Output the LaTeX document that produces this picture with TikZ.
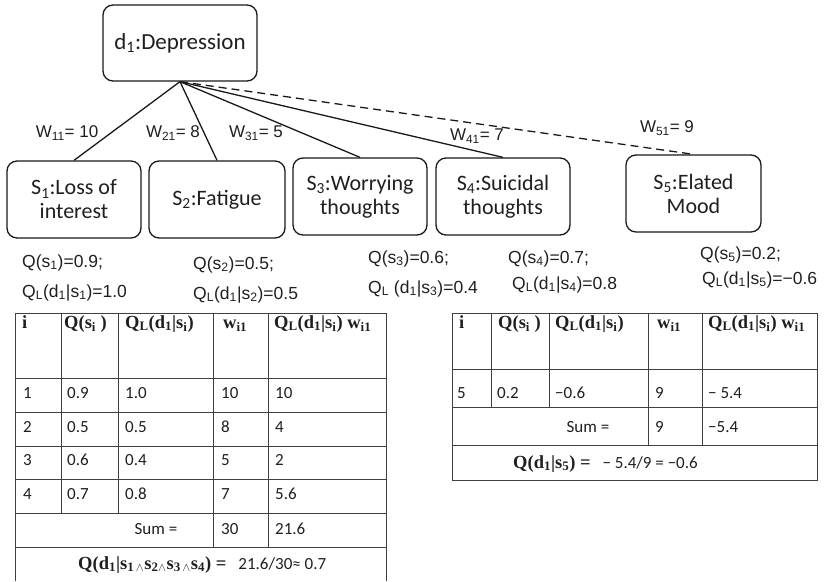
\documentclass[tikz,border=0pt]{standalone}
\usepackage{fontspec}
\setmainfont{Liberation Sans}
\newfontfamily\boxfont{Carlito}
\newfontfamily\cellfont{Carlito}
\newfontfamily\headfont{Liberation Serif}

\begin{document}
\begin{tikzpicture}[x=1pt,y=-1pt,
  every node/.style={inner sep=0pt, text=black!88},
  concept/.style={draw=black!90, line width=1.3pt, rounded corners=10pt,
    align=center, font=\boxfont\fontsize{22}{24}\selectfont},
  link/.style={line width=1.3pt, draw=black!90},
  weaklink/.style={link, dash pattern=on 8pt off 5pt},
  weight/.style={font=\fontsize{17}{20}\selectfont},
  qlabel/.style={anchor=base west, font=\fontsize{17.5}{20}\selectfont},
  grid/.style={line width=0.9pt, draw=black!75},
  head/.style={anchor=base west, font=\headfont\bfseries\fontsize{18.5}{20}\selectfont},
  cell/.style={anchor=west, font=\cellfont\fontsize{17}{20}\selectfont},
]
\useasboundingbox (0,0) rectangle (826,581);

% ---- concept nodes ----
\node[concept, minimum width=154pt, minimum height=76pt,
  font=\boxfont\fontsize{23}{24}\selectfont] (d1) at (180,43)
  {d\textsubscript{1}:Depression};
\node[concept, minimum width=134pt, minimum height=77pt] (s1) at (74,199.5)
  {S\textsubscript{1}:Loss of\\interest};
\node[concept, minimum width=136pt, minimum height=77pt] (s2) at (217,199.5)
  {S\textsubscript{2}:Fatigue};
\node[concept, minimum width=134pt, minimum height=77pt] (s3) at (360,196.5)
  {S\textsubscript{3}:Worrying\\thoughts};
\node[concept, minimum width=134pt, minimum height=77pt] (s4) at (503,196.5)
  {S\textsubscript{4}:Suicidal\\thoughts};
\node[concept, minimum width=135pt, minimum height=77pt] (s5) at (693.5,193.5)
  {S\textsubscript{5}:Elated\\Mood};

% ---- weighted links ----
\draw[link] (d1.south) -- (s1.north);
\draw[link] (d1.south) -- (s2.north);
\draw[link] (d1.south) -- (s3.north);
\draw[link] (d1.south) -- (s4.north);
\draw[weaklink] (d1.south) -- (s5.north);

\node[weight] (w1) at (67,133) {W\textsubscript{11}= 10};
\node[weight] (w2) at (173,133) {W\textsubscript{21}= 8};
\node[weight] (w3) at (256,133) {W\textsubscript{31}= 5};
\node[weight] (w4) at (477,136) {W\textsubscript{41}= 7};
\node[weight] (w5) at (667,128) {W\textsubscript{51}= 9};

% ---- symptom values ----
\node[qlabel] (q1) at (22,267) {Q(s\textsubscript{1})=0.9;};
\node[qlabel] (l1) at (22,297) {Q\textsubscript{L}(d\textsubscript{1}|s\textsubscript{1})=1.0};
\node[qlabel] (q2) at (193,269) {Q(s\textsubscript{2})=0.5;};
\node[qlabel] (l2) at (193,299) {Q\textsubscript{L}(d\textsubscript{1}|s\textsubscript{2})=0.5};
\node[qlabel] (q3) at (368,263) {Q(s\textsubscript{3})=0.6;};
\node[qlabel] (l3) at (368,293) {Q\textsubscript{L} (d\textsubscript{1}|s\textsubscript{3})=0.4};
\node[qlabel] (q4) at (508,263) {Q(s\textsubscript{4})=0.7;};
\node[qlabel] (l4) at (512,289) {Q\textsubscript{L}(d\textsubscript{1}|s\textsubscript{4})=0.8};
\node[qlabel] (q5) at (700,259) {Q(s\textsubscript{5})=0.2;};
\node[qlabel] (l5) at (702,284) {Q\textsubscript{L}(d\textsubscript{1}|s\textsubscript{5})=\char"2212 0.6};

% ---- table for s1..s4 ----
\draw[grid] (15,581) -- (15,313) -- (386,313) -- (386,581);
\foreach \yy in {378,412,446,479,513,547} \draw[grid] (15,\yy) -- (386,\yy);
\foreach \xx in {61,118} \draw[grid] (\xx,313) -- (\xx,513);
\foreach \xx in {213,268} \draw[grid] (\xx,313) -- (\xx,547);

\node[head] (ha1) at (22,328) {i};
\node[head] (ha2) at (64,328) {Q(s\textsubscript{i} )};
\node[head] (ha3) at (125,328) {Q\textsubscript{L}(d\textsubscript{1}|s\textsubscript{i})};
\node[head] (ha4) at (223,328) {w\textsubscript{i1}};
\node[head] (ha5) at (274,328) {Q\textsubscript{L}(d\textsubscript{1}|s\textsubscript{i}) w\textsubscript{i1}};

\foreach \r/\yy/\a/\b/\c/\d in {1/393/0.9/1.0/10/10, 2/427/0.5/0.5/8/4,
    3/460/0.6/0.4/5/2, 4/494/0.7/0.8/7/5.6} {
  \node[cell] (ra\r i) at (23,\yy) {\r};
  \node[cell] (ra\r q) at (67,\yy) {\a};
  \node[cell] (ra\r l) at (125,\yy) {\b};
  \node[cell] (ra\r w) at (221,\yy) {\c};
  \node[cell] (ra\r p) at (275,\yy) {\d};
}
\node[cell, anchor=center] (suma) at (156,529) {Sum =};
\node[cell] (suma w) at (221,529) {30};
\node[cell] (suma p) at (275,529) {21.6};
\node[cell, anchor=base west] (resa) at (78,569)
  {{\headfont\bfseries\fontsize{18.5}{20}\selectfont Q(d\textsubscript{1}|s\textsubscript{1\,$\wedge$}s\textsubscript{2$\wedge$}s\textsubscript{3\,$\wedge$}s\textsubscript{4}) =}\hspace{12pt}21.6/30≈ 0.7};

% ---- table for s5 ----
\draw[grid] (452,313) rectangle (817,480);
\foreach \yy in {369,407,445} \draw[grid] (452,\yy) -- (817,\yy);
\foreach \xx in {491,549} \draw[grid] (\xx,313) -- (\xx,407);
\foreach \xx in {648,702} \draw[grid] (\xx,313) -- (\xx,445);

\node[head] (hb1) at (459,328) {i};
\node[head] (hb2) at (498,328) {Q(s\textsubscript{i} )};
\node[head] (hb3) at (555,328) {Q\textsubscript{L}(d\textsubscript{1}|s\textsubscript{i})};
\node[head] (hb4) at (657,328) {w\textsubscript{i1}};
\node[head] (hb5) at (708,328) {Q\textsubscript{L}(d\textsubscript{1}|s\textsubscript{i}) w\textsubscript{i1}};

\node[cell] (rb1i) at (457,393) {5};
\node[cell] (rb1q) at (497,393) {0.2};
\node[cell] (rb1l) at (555,393) {\char"2212 0.6};
\node[cell] (rb1w) at (655,393) {9};
\node[cell] (rb1p) at (708,393) {\char"2212\ 5.4};
\node[cell, anchor=center] (sumb) at (588,427) {Sum =};
\node[cell] (sumb w) at (655,427) {9};
\node[cell] (sumb p) at (708,427) {\char"2212 5.4};
\node[cell, anchor=base west] (resb) at (513,468)
  {{\headfont\bfseries\fontsize{18.5}{20}\selectfont Q(d\textsubscript{1}|s\textsubscript{5}) =}\hspace{12pt}\char"2212\ 5.4/9 = \char"2212 0.6};
\end{tikzpicture}
\end{document}
